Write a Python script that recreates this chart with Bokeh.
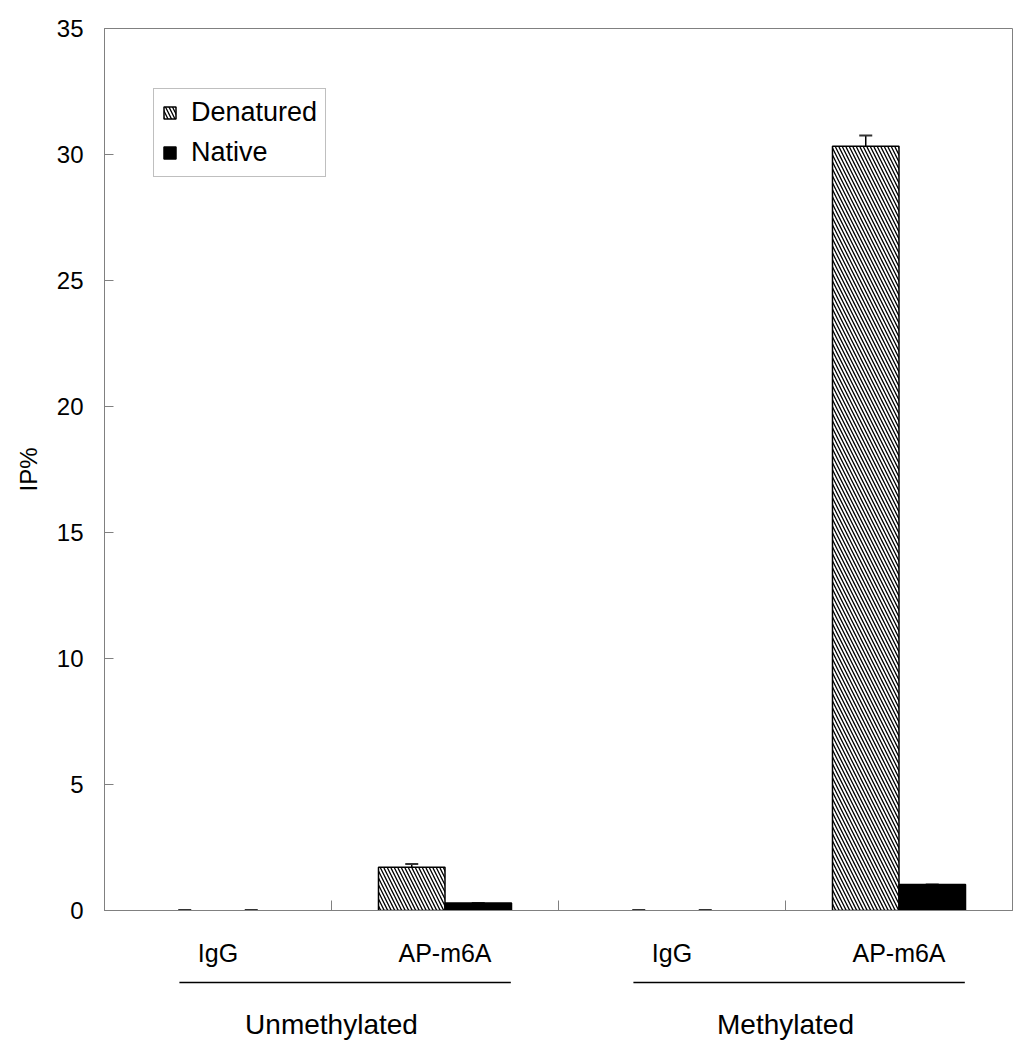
import numpy as np
from bokeh.plotting import figure
from bokeh.models import (Range1d, FixedTicker, Legend, LegendItem, Whisker,
                          TeeHead, ColumnDataSource)
from bokeh.layouts import column
from bokeh.embed import file_html
from bokeh.resources import INLINE
from bokeh.core.properties import value

# ---------------- data ----------------
groups = ["Unmethylated", "Methylated"]
group_of = ["Unmethylated", "Unmethylated", "Methylated", "Methylated"]
antibodies = ["IgG", "AP-m6A", "IgG", "AP-m6A"]
denatured = [0.0, 1.72, 0.0, 30.33]
denatured_err = [0.02, 0.13, 0.02, 0.42]
native = [0.0, 0.30, 0.0, 1.03]
native_err = [0.02, 0.0, 0.02, 0.0]
y_ticks = [0, 5, 10, 15, 20, 25, 30, 35]
series_names = ["Denatured", "Native"]

# ---------------- styles ----------------
FONT = "Liberation Sans"
GRAY = "#808080"
BAR_W = 0.293

n = len(antibodies)
centers = np.arange(n) + 0.5
boundaries = list(np.arange(n + 1).astype(float))

def make_src(vals, errs, offset):
    vals = np.asarray(vals, dtype=float)
    errs = np.asarray(errs, dtype=float)
    return ColumnDataSource(dict(
        x=centers + offset,
        top=vals,
        upper=vals + errs,
        lower=vals,
        la=[1.0 if v > 0 else 0.0 for v in vals],
    ))

src_d = make_src(denatured, denatured_err, -BAR_W / 2)
src_n = make_src(native, native_err, BAR_W / 2)

p = figure(width=1016, height=974, x_range=Range1d(0, n), y_range=Range1d(0, 35),
           output_backend="svg", toolbar_location=None,
           min_border_left=104, min_border_right=4, min_border_top=28,
           min_border_bottom=64)
p.background_fill_color = "white"
p.border_fill_color = "white"
p.outline_line_color = GRAY
p.outline_line_width = 1
p.xgrid.visible = False
p.ygrid.visible = False

r_d = p.vbar(x="x", top="top", bottom=0, width=BAR_W, source=src_d,
             fill_color="white", line_color="black", line_width=1.5,
             line_alpha="la", hatch_pattern="\\", hatch_color="black",
             hatch_scale=7, hatch_weight=1.3)
r_n = p.vbar(x="x", top="top", bottom=0, width=BAR_W, source=src_n,
             fill_color="black", line_color="black", line_width=1.5,
             line_alpha="la")

for src in (src_d, src_n):
    w = Whisker(source=src, base="x", upper="upper", lower="lower",
                line_color="black", line_width=1.5,
                upper_head=TeeHead(size=13, line_color="#333333", line_width=2),
                lower_head=None)
    p.add_layout(w)

# y axis
ya = p.yaxis[0]
ya.ticker = FixedTicker(ticks=y_ticks)
ya.major_tick_in = 9
ya.major_tick_out = 0
ya.minor_tick_line_color = None
ya.axis_line_color = GRAY
ya.major_tick_line_color = GRAY
ya.major_label_text_font = FONT
ya.major_label_text_font_size = "24px"
ya.major_label_text_color = "black"
ya.major_label_standoff = 21
ya.axis_label = "IP%"
ya.axis_label_text_font = FONT
ya.axis_label_text_font_size = "24px"
ya.axis_label_text_font_style = "normal"
ya.axis_label_text_color = "black"
ya.axis_label_standoff = 12

# x axis: category labels at centres, boundary ticks as minor ticks
xa = p.xaxis[0]
xa.ticker = FixedTicker(ticks=list(centers), minor_ticks=boundaries)
xa.major_label_overrides = {float(c): lab for c, lab in zip(centers, antibodies)}
xa.major_tick_line_color = None
xa.minor_tick_in = 10
xa.minor_tick_out = 0
xa.minor_tick_line_color = GRAY
xa.axis_line_color = GRAY
xa.major_label_text_font = FONT
xa.major_label_text_font_size = "25px"
xa.major_label_text_color = "black"
xa.major_label_standoff = 22

legend = Legend(items=[LegendItem(label=series_names[0], renderers=[r_d], index=1),
                       LegendItem(label=series_names[1], renderers=[r_n], index=1)],
                location=(49, 733), margin=0, padding=8, spacing=9,
                glyph_width=15, glyph_height=15, label_standoff=14,
                label_text_font=FONT, label_text_font_size="27px",
                label_text_color="black",
                border_line_color=GRAY, border_line_width=1,
                background_fill_color="white", background_fill_alpha=1.0)
p.add_layout(legend)

# ---------------- group labels below ----------------
QH = 72
q = figure(width=1016, height=QH, x_range=p.x_range, y_range=Range1d(QH, 0),
           output_backend="svg", toolbar_location=None,
           min_border_left=104, min_border_right=4, min_border_top=0,
           min_border_bottom=0)
q.axis.visible = False
q.xgrid.visible = False
q.ygrid.visible = False
q.outline_line_color = None
q.background_fill_color = "white"
q.border_fill_color = "white"

g_start = np.array([group_of.index(g) for g in groups], dtype=float)
g_end = np.array([len(group_of) - group_of[::-1].index(g) for g in groups], dtype=float)
g_center = (g_start + g_end) / 2

q.segment(x0=g_start + 0.33, x1=g_end - 0.21, y0=8, y1=8,
          line_color="black", line_width=1.5)
q.text(x=g_center, y=[50] * len(groups), text=groups, text_align="center",
       text_baseline="alphabetic", text_font=value(FONT), text_font_size="28px",
       text_color="black")

layout = column(p, q, spacing=0)
open("out.html", "w").write(file_html(layout, INLINE))
